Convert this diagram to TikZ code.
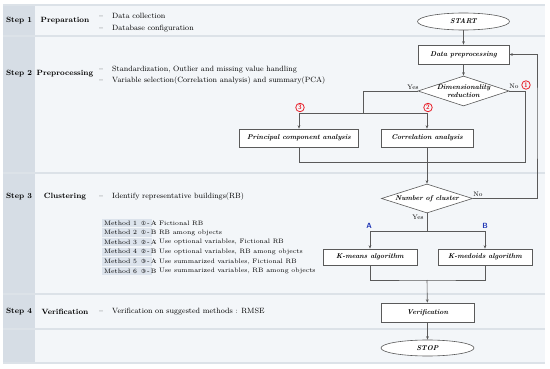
\documentclass[tikz,border=0pt]{standalone}
\usepackage{fontspec}
\newfontfamily\circfont{DejaVu Sans}
\usepackage{tikz}
\usetikzlibrary{shapes.geometric,positioning,calc,arrows.meta}
\definecolor{stepbg}{HTML}{D6DDE5}
\definecolor{rowbg}{HTML}{F3F6F9}
\definecolor{rowline}{HTML}{DCE2E8}
\definecolor{methbg}{HTML}{DCE3EC}
\definecolor{flowline}{HTML}{5A5A5A}
\definecolor{markred}{HTML}{E8202A}
\definecolor{markblue}{HTML}{1F35B5}

\tikzset{
  procbox/.style={draw=flowline, line width=0.6pt, fill=white, inner sep=1pt, font=\fontsize{7}{8}\selectfont\bfseries\itshape},
  termbox/.style={ellipse, draw=flowline, line width=0.6pt, fill=white, inner sep=0pt, minimum width=92pt, minimum height=17pt, font=\fontsize{7}{8}\selectfont\bfseries\itshape},
  decbox/.style={diamond, draw=flowline, line width=0.6pt, fill=white, shape aspect=3, inner sep=-2pt, align=center, font=\fontsize{7}{7.5}\selectfont\bfseries\itshape},
  flow/.style={draw=flowline, line width=0.6pt, -{Stealth[length=3.5pt,width=2.8pt]}},
  link/.style={draw=flowline, line width=0.6pt},
  steplbl/.style={font=\fontsize{7.6}{9}\selectfont\bfseries},
  bodytxt/.style={anchor=west, inner sep=0pt, font=\fontsize{7.6}{9}\selectfont},
  methtag/.style={anchor=west, fill=methbg, inner xsep=2pt, inner ysep=0.5pt, minimum height=8.5pt, font=\fontsize{6.4}{7}\selectfont},
  methtxt/.style={inner sep=0pt, font=\fontsize{6.4}{7}\selectfont},
  redmark/.style={circle, draw=markred, line width=0.8pt, text=markred, inner sep=0pt, minimum size=8.5pt, font=\fontsize{6.5}{6.5}\selectfont\sffamily\bfseries},
  bluemark/.style={text=markblue, inner sep=0pt, font=\fontsize{7.5}{8}\selectfont\sffamily\bfseries},
  yesno/.style={inner sep=0pt, font=\fontsize{6.5}{7}\selectfont}
}

\begin{document}
\begin{tikzpicture}[x=1pt, y=-1pt]
  \useasboundingbox (0,0) rectangle (550,369);

  % Background of the table
  \fill[rowbg] (3,5) rectangle (545,363);
  \fill[stepbg] (3,5) rectangle (35,363);
  \foreach \yy in {5,36,173,294,329,363}
    \draw[rowline, line width=1.2pt] (3,\yy) -- (545,\yy);

  % Steps and phases
  \foreach \k/\yy/\phase in {1/21/Preparation, 2/74/Preprocessing, 3/197/Clustering, 4/312/Verification} {
    \node[steplbl] (step\k) at (19,\yy) {Step \k};
    \node[steplbl] (phase\k) at (65,\yy) {\phase};
  }

  % Descriptions
  \node[bodytxt] (desc1a) at (99,15.5) {\makebox[13pt][l]{--}Data collection};
  \node[bodytxt] (desc1b) at (99,28.5) {\makebox[13pt][l]{--}Database configuration};
  \node[bodytxt] (desc2a) at (99,70) {\makebox[13pt][l]{--}Standardization, Outlier and missing value handling};
  \node[bodytxt] (desc2b) at (99,81) {\makebox[13pt][l]{--}Variable selection(Correlation analysis) and summary(PCA)};
  \node[bodytxt] (desc3) at (99,197) {\makebox[13pt][l]{--}Identify representative buildings(RB)};
  \node[bodytxt] (desc4) at (99,312) {\makebox[13pt][l]{--}Verification on suggested methods : RMSE};

  % Methods
  \foreach \m/\c/\l/\t in {1/①/A/{Fictional RB}, 2/①/B/{RB among objects},
      3/②/A/{Use optional variables, Fictional RB}, 4/②/B/{Use optional variables, RB among objects},
      5/③/A/{Use summarized variables, Fictional RB}, 6/③/B/{Use summarized variables, RB among objects}} {
    \node[methtag] (meth\m) at (102,{223+9.6*(\m-1)})
      {\makebox[46pt][l]{Method \m\hspace{4pt}{\circfont\fontsize{5.6}{6}\selectfont\c}\,-\,\l}};
    \node[methtxt, anchor=west, right=1.5pt of meth\m] (methtxt\m) {:\ \t};
  }

  % Flowchart
  \node[termbox] (start) at (463.5,21.5) {START};
  \node[procbox, minimum width=91pt, minimum height=19pt] (prep) at (463.5,54.5) {Data preprocessing};
  \node[decbox, minimum width=91pt, minimum height=30pt] (dimred) at (463.5,91) {Dimensionality\\reduction};
  \node[procbox, minimum width=119pt, minimum height=18pt] (pca) at (299,138) {Principal component analysis};
  \node[procbox, minimum width=92pt, minimum height=18pt] (corr) at (427,138) {Correlation analysis};
  \node[decbox, minimum width=91pt, minimum height=29pt] (ncl) at (427,198.5) {Number of cluster};
  \node[procbox, minimum width=94pt, minimum height=16pt] (kmeans) at (370,257) {K-means algorithm};
  \node[procbox, minimum width=94pt, minimum height=16pt] (kmedoids) at (485,257) {K-medoids algorithm};
  \node[procbox, minimum width=93pt, minimum height=19pt] (verif) at (427.5,312.5) {Verification};
  \node[termbox, minimum width=93pt, minimum height=16pt] (stop) at (427.5,348) {STOP};

  \coordinate (yesturn) at (363,113);
  \coordinate (nojoin) at (525,162);
  \coordinate (back) at (537,120);
  \coordinate (clsplit) at (427,231);
  \coordinate (clmerge) at (427,280);

  \draw[flow] (start) -- (prep);
  \draw[flow] (prep) -- (dimred);
  \draw[link] (dimred.west) -| (yesturn);
  \draw[flow] (yesturn) -| (pca.north);
  \draw[flow] (yesturn) -| (corr.north);
  \draw[link] (pca.south) |- (nojoin) |- (dimred.east);
  \draw[flow] (corr) -- (ncl);
  \draw[flow] (ncl.east) -| (back) |- (prep.east);
  \draw[link] (ncl.south) -- (clsplit);
  \draw[flow] (clsplit) -| (kmeans.north);
  \draw[flow] (clsplit) -| (kmedoids.north);
  \draw[link] (kmeans.south) |- (clmerge) -| (kmedoids.south);
  \draw[flow] (clmerge) -- (verif);
  \draw[flow] (verif) -- (stop);

  % Labels on the connectors
  \node[yesno] (yes1) at (413,87) {Yes};
  \node[yesno] (no1) at (514,86.5) {No};
  \node[yesno] (no2) at (478,194) {No};
  \node[yesno] (yes2) at (418,217.5) {Yes};
  \node[redmark] (mk1) at (526,85) {1};
  \node[redmark] (mk2) at (428,107.5) {2};
  \node[redmark] (mk3) at (300,107.5) {3};
  \node[bluemark] (mka) at (369,226) {A};
  \node[bluemark] (mkb) at (485,226) {B};
\end{tikzpicture}
\end{document}
